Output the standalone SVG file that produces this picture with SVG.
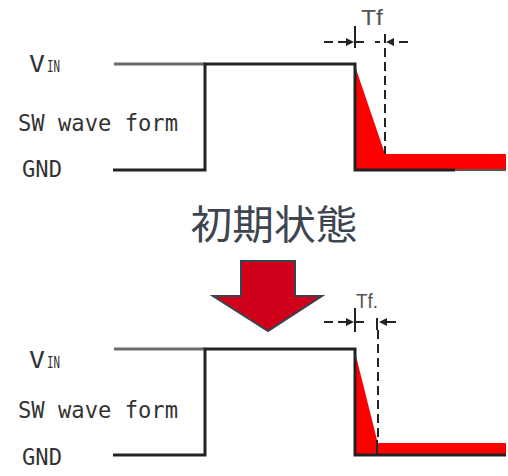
<svg xmlns="http://www.w3.org/2000/svg" width="508" height="476" viewBox="0 0 508 476">
<style>
.lbl{font-family:"DejaVu Sans Mono","Liberation Mono",monospace;fill:#333}
.big{font-size:23px}
.sub{font-size:15px}
.tf{font-family:"Liberation Sans","DejaVu Sans",sans-serif;fill:#555}
.wire{stroke:#222;stroke-width:3;fill:none}
.wireg{stroke:#6a6a6a;stroke-width:3;fill:none}
.dash{stroke:#222;stroke-width:2;stroke-dasharray:9,5;fill:none}
.tick{stroke:#222;stroke-width:2;fill:none}
.red{fill:#ff0000}
.ah{fill:#222}
</style>

<g id="top-labels">
<text class="lbl big" x="29" y="72" textLength="16" lengthAdjust="spacingAndGlyphs">V</text>
<text class="lbl sub" x="47" y="72" textLength="13" lengthAdjust="spacingAndGlyphs">IN</text>
<text class="lbl big" x="18" y="131" textLength="160" lengthAdjust="spacingAndGlyphs">SW wave form</text>
<text class="lbl big" x="22" y="177" textLength="40" lengthAdjust="spacingAndGlyphs">GND</text>
</g>

<g id="top-wave">
<polygon class="red" points="355,66 385,154 506,154 506,169 355,169"/>
<line class="wireg" x1="114" y1="64" x2="205" y2="64"/>
<polyline class="wire" points="113,170 205,170 205,64 355,64 355,170 455,170"/>
<line x1="455" y1="170" x2="506" y2="170" stroke="#555" stroke-width="2"/>
<line class="dash" x1="385" y1="34" x2="385" y2="154"/>
<line class="tick" x1="355" y1="26" x2="355" y2="48"/>
</g>

<g id="top-tf">
<line class="dash" x1="324" y1="42" x2="347" y2="42" stroke-dasharray="10,6"/>
<path class="ah" d="M354,42 L346,38 L346,46 Z"/>
<line class="dash" x1="355" y1="42" x2="366" y2="42" stroke-dasharray="none"/>
<line class="dash" x1="408" y1="42" x2="393" y2="42" stroke-dasharray="none"/>
<line class="dash" x1="375" y1="42" x2="380" y2="42" stroke-dasharray="none"/>
<path class="ah" d="M386,42 L394,38 L394,46 Z"/>
<text class="tf" x="361" y="25" font-size="22" textLength="22" lengthAdjust="spacingAndGlyphs">Tf</text>
</g>

<g id="caption">
<text x="274" y="239" text-anchor="middle" font-family="'Noto Sans CJK JP','Noto Sans CJK SC',sans-serif" font-size="40" fill="#3d4650" textLength="167" lengthAdjust="spacingAndGlyphs">初期状態</text>
</g>

<g id="arrow">
<polygon points="241,261 295,261 295,296 322,296 268,331 213,296 241,296" fill="#d0001a" stroke="#3a4450" stroke-width="2" stroke-linejoin="miter"/>
</g>

<g id="bottom-labels">
<text class="lbl big" x="29" y="368" textLength="16" lengthAdjust="spacingAndGlyphs">V</text>
<text class="lbl sub" x="47" y="368" textLength="13" lengthAdjust="spacingAndGlyphs">IN</text>
<text class="lbl big" x="18" y="418" textLength="160" lengthAdjust="spacingAndGlyphs">SW wave form</text>
<text class="lbl big" x="22" y="465" textLength="40" lengthAdjust="spacingAndGlyphs">GND</text>
</g>

<g id="bottom-wave">
<polygon class="red" points="355,352 377,440 378,443 506,443 506,454 355,454"/>
<line class="wireg" x1="114" y1="349" x2="205" y2="349"/>
<polyline class="wire" points="113,455 205,455 205,349 355,349 355,455 506,455"/>
<line class="dash" x1="378" y1="330" x2="378" y2="440"/>
<line class="tick" x1="377" y1="440" x2="377" y2="455"/>
<line class="tick" x1="355" y1="308" x2="355" y2="332"/>
</g>

<g id="bottom-tf">
<line class="dash" x1="324" y1="322" x2="347" y2="322" stroke-dasharray="10,6"/>
<path class="ah" d="M354,322 L346,318 L346,326 Z"/>
<line class="dash" x1="355" y1="322" x2="365" y2="322" stroke-dasharray="none"/>
<line class="tick" x1="377" y1="318" x2="377" y2="330"/>
<path class="ah" d="M379,322 L387,318 L387,326 Z"/>
<line class="dash" x1="387" y1="322" x2="401" y2="322" stroke-dasharray="none"/>
<text class="tf" x="356" y="308" font-size="20" textLength="22" lengthAdjust="spacingAndGlyphs">Tf.</text>
</g>
</svg>
